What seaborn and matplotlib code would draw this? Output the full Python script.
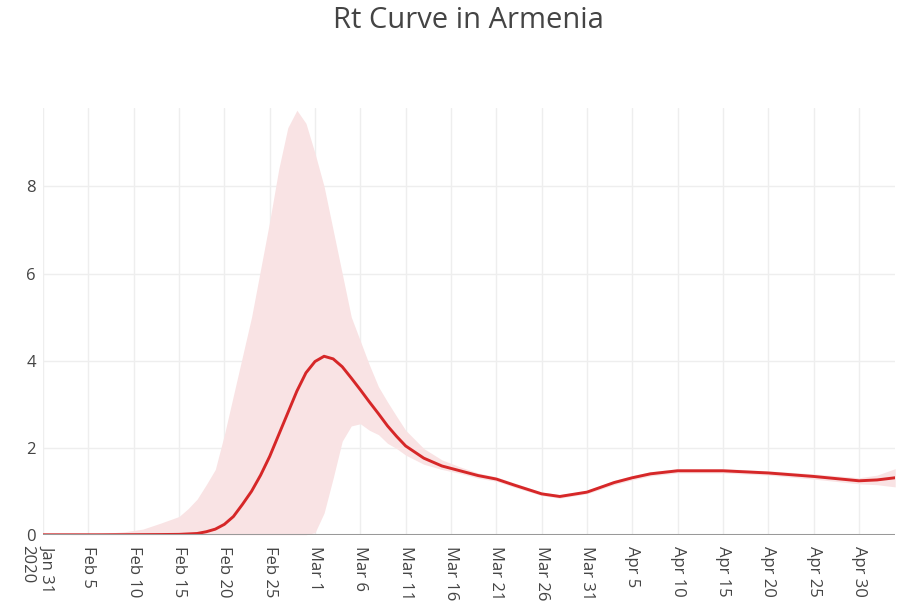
import matplotlib
matplotlib.use("Agg")
import matplotlib.pyplot as plt
import matplotlib.transforms as mtransforms
import pandas as pd
import seaborn as sns

# values
dates = [
    "2020-01-31", "2020-02-03", "2020-02-06", "2020-02-09", "2020-02-11",
    "2020-02-13", "2020-02-15", "2020-02-16", "2020-02-17", "2020-02-18",
    "2020-02-19", "2020-02-20", "2020-02-21", "2020-02-22", "2020-02-23",
    "2020-02-24", "2020-02-25", "2020-02-26", "2020-02-27", "2020-02-28",
    "2020-02-29", "2020-03-01", "2020-03-02", "2020-03-03", "2020-03-04",
    "2020-03-05", "2020-03-06", "2020-03-07", "2020-03-08", "2020-03-09",
    "2020-03-10", "2020-03-11", "2020-03-13", "2020-03-15", "2020-03-17",
    "2020-03-19", "2020-03-21", "2020-03-23", "2020-03-26", "2020-03-28",
    "2020-03-31", "2020-04-03", "2020-04-05", "2020-04-07", "2020-04-10",
    "2020-04-15", "2020-04-20", "2020-04-25", "2020-04-30", "2020-05-02",
    "2020-05-04",
]
rt_mean = [
    0.0, 0.0, 0.0, 0.002, 0.004,
    0.006, 0.01, 0.02, 0.03, 0.07,
    0.13, 0.24, 0.42, 0.7, 1.0,
    1.37, 1.8, 2.3, 2.8, 3.3,
    3.72, 3.98, 4.1, 4.04, 3.86,
    3.6, 3.33, 3.05, 2.78, 2.5,
    2.26, 2.04, 1.76, 1.58, 1.47,
    1.36, 1.28, 1.14, 0.94, 0.88,
    0.98, 1.2, 1.31, 1.4, 1.47,
    1.47, 1.42, 1.34, 1.24, 1.26,
    1.31,
]
rt_low = [
    0.0, 0.0, 0.0, 0.0, 0.0,
    0.0, 0.0, 0.0, 0.0, 0.0,
    0.0, 0.0, 0.0, 0.0, 0.0,
    0.0, 0.0, 0.0, 0.0, 0.0,
    0.0, 0.05, 0.5, 1.3, 2.15,
    2.5, 2.55, 2.4, 2.3, 2.1,
    1.98, 1.83, 1.62, 1.5, 1.41,
    1.3, 1.23, 1.09, 0.9, 0.84,
    0.94, 1.15, 1.26, 1.35, 1.42,
    1.42, 1.37, 1.28, 1.17, 1.15,
    1.1,
]
rt_high = [
    0.0, 0.005, 0.02, 0.07, 0.13,
    0.27, 0.42, 0.6, 0.82, 1.15,
    1.5, 2.3, 3.2, 4.1, 5.0,
    6.1, 7.2, 8.4, 9.35, 9.75,
    9.45, 8.76, 8.0, 7.0, 6.0,
    5.0, 4.45, 3.9, 3.4, 3.05,
    2.72, 2.4, 1.98, 1.72, 1.56,
    1.42, 1.33, 1.19, 0.98, 0.92,
    1.02, 1.25, 1.36, 1.45, 1.52,
    1.52, 1.47, 1.4, 1.31, 1.37,
    1.52,
]


def main():
    df = pd.DataFrame({
        "date": pd.to_datetime(dates),
        "rt": rt_mean,
        "low": rt_low,
        "high": rt_high,
    })

    sns.set_style("whitegrid")
    plt.rcParams["font.family"] = ["Open Sans", "DejaVu Sans"]

    fig = plt.figure(figsize=(8.97, 6.14), dpi=100)
    ax = fig.add_axes([0.048, 0.129, 0.950, 0.695])

    ax.fill_between(df["date"], df["low"], df["high"], color="#f9e3e4",
                    linewidth=0, zorder=1)
    sns.lineplot(x="date", y="rt", data=df, ax=ax, color="#d62728",
                 linewidth=2.1, zorder=3)

    start = pd.Timestamp("2020-01-31")
    end = pd.Timestamp("2020-05-04")
    ax.set_xlim(start, end)
    ax.set_ylim(0, 9.8)

    grey = "#444444"
    ticks = pd.date_range(start, end, freq="5D")
    labels = [f"{t:%b} {t.day}" for t in ticks]
    labels[0] = ""
    ax.set_xticks(ticks)
    ax.set_xticklabels(labels, rotation=-90, ha="center", va="top",
                       color=grey, fontsize=12)
    shift = mtransforms.ScaledTranslation(-3 / 100, 0, fig.dpi_scale_trans)
    for lab in ax.get_xticklabels():
        lab.set_transform(lab.get_transform() + shift)
    # first tick carries the year on a second line
    for txt, dx in [("Jan 31", 4), ("2020", -16)]:
        ax.annotate(txt, xy=(start, 0), xycoords=("data", "axes fraction"),
                    xytext=(dx, -10), textcoords="offset pixels",
                    rotation=-90, ha="center", va="top", color=grey,
                    fontsize=12)

    ax.set_yticks([0, 2, 4, 6, 8])
    ax.set_yticklabels(["0", "2", "4", "6", "8"], color=grey, fontsize=12)
    ax.tick_params(axis="x", length=0, pad=8)
    ax.tick_params(axis="y", length=0, pad=5)

    ax.grid(True, color="#eeeeee", linewidth=1)
    for s in ax.spines.values():
        s.set_visible(False)
    ax.axhline(0, color="#999999", linewidth=2.2, zorder=4)

    ax.set_xlabel("")
    ax.set_ylabel("")
    fig.text(0.522, 0.966, "Rt Curve in Armenia", ha="center", va="center",
             fontsize=21, color=grey)

    fig.savefig("out.png", dpi=100)


if __name__ == "__main__":
    main()
